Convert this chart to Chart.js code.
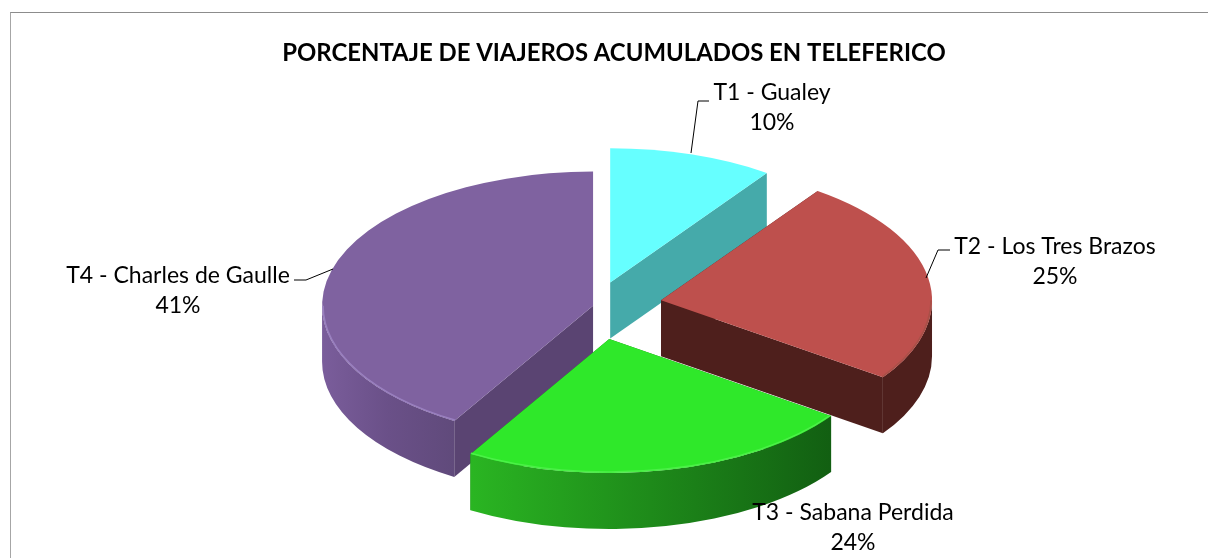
<!DOCTYPE html>
<html>
<head>
<meta charset="utf-8">
<title>Viajeros en teleferico</title>
<script src="https://cdn.jsdelivr.net/npm/chart.js@4"></script>
<style>
    html, body { margin: 0; padding: 0; background: #fff; overflow: hidden; }
    #wrap { position: relative; width: 1208px; height: 558px; }
    #myChart { position: absolute; left: 0; top: 0; }
    #frame { position: absolute; left: 10px; top: 12px; right: 0; bottom: 0; border-top: 1px solid #8c8c8c; border-left: 1px solid #a6a6a6; }
</style>
</head>
<body>
<div id="wrap">
    <canvas id="myChart" width="1208" height="558"></canvas>
    <div id="frame"></div>
</div>
<script>
const chartTitle = 'PORCENTAJE DE VIAJEROS ACUMULADOS EN TELEFERICO'
const categories = ['T1 - Gualey', 'T2 - Los Tres Brazos', 'T3 - Sabana Perdida', 'T4 - Charles de Gaulle']
const values = [9.8, 24.9, 23.8, 41.4]

// slice look, same order as categories
const topColors = ['#66FFFF', '#BE504D', '#2FE82A', '#7F62A0']
const faceColors = ['#45AAAA', '#4E1F1C', '#1A7A12', '#5A4472']
const rimColors = [
    ['#45AAAA', '#45AAAA'],
    ['#4E1F1C', '#4E1F1C'],
    ['#2AB522', '#1E8A1A', '#125F12'],
    ['#7A5D9B', '#6A5088', '#604A7B']
]
const bevelColors = ['#66FFFF', '#A85048', '#4CF048', '#9A80C0']
const explode = [50, 67, 68, 2]
const paintOrder = [0, 3, 1, 2]

// 3d pie geometry
const pieX = 595
const pieY = 306
const pieRadius = 271
const squash = 0.495
const depth = 56

// label anchors and leader lines
const labelSpots = [[772, 93], [1055, 247], [853, 513], [178, 276]]
const leaders = [
    [[709, 101], [698, 101], [691, 153]],
    [[950, 250], [938, 250], [926, 278]],
    null,
    [[294, 280], [306, 280], [333, 269]]
]
const labelFont = '23px Lato'
const lineGap = 30

const pie3d = {
    id: 'pie3d',
    beforeDatasetDraw(chart, args) {
        const ctx = chart.ctx
        const arcs = args.meta.data
        paintOrder.forEach(i => {
            const arc = arcs[i]
            const mid = (arc.startAngle + arc.endAngle) / 2
            const ax = pieX + Math.cos(mid) * explode[i]
            const ay = pieY + Math.sin(mid) * explode[i] * squash
            drawWalls(ctx, arc, i, ax, ay)
            ctx.save()
            ctx.translate(ax, ay)
            ctx.scale(1, squash)
            ctx.translate(-arc.x, -arc.y)
            arc.draw(ctx)
            ctx.restore()
            drawBevel(ctx, arc, i, ax, ay)
        })
        return false
    },
    afterDraw(chart) {
        const ctx = chart.ctx
        const total = values.reduce((a, b) => a + b, 0)
        ctx.save()
        ctx.strokeStyle = '#000'
        ctx.lineWidth = 1
        leaders.forEach(line => {
            if (!line) return
            ctx.beginPath()
            line.forEach((p, n) => n ? ctx.lineTo(p[0], p[1]) : ctx.moveTo(p[0], p[1]))
            ctx.stroke()
        })
        ctx.fillStyle = '#000'
        ctx.font = labelFont
        ctx.textAlign = 'center'
        ctx.textBaseline = 'middle'
        categories.forEach((name, i) => {
            const [x, y] = labelSpots[i]
            ctx.fillText(name, x, y)
            ctx.fillText(Math.round(values[i] / total * 100) + '%', x, y + lineGap)
        })
        ctx.restore()
    }
}

function rimRange(arc) {
    const from = Math.max(arc.startAngle, 0)
    const to = Math.min(arc.endAngle, Math.PI)
    return to > from ? [from, to] : null
}

function drawWalls(ctx, arc, i, ax, ay) {
    const ry = pieRadius * squash
    ctx.fillStyle = faceColors[i]
    ;[arc.startAngle, arc.endAngle].forEach(a => {
        const px = ax + Math.cos(a) * pieRadius
        const py = ay + Math.sin(a) * ry
        ctx.beginPath()
        ctx.moveTo(ax, ay)
        ctx.lineTo(px, py)
        ctx.lineTo(px, py + depth)
        ctx.lineTo(ax, ay + depth)
        ctx.closePath()
        ctx.fill()
    })
    const range = rimRange(arc)
    if (!range) return
    const x0 = ax + Math.cos(range[1]) * pieRadius
    const x1 = ax + Math.cos(range[0]) * pieRadius
    const grad = ctx.createLinearGradient(x0, 0, x1, 0)
    rimColors[i].forEach((c, n) => grad.addColorStop(n / (rimColors[i].length - 1), c))
    ctx.fillStyle = grad
    ctx.beginPath()
    ctx.ellipse(ax, ay, pieRadius, ry, 0, range[0], range[1])
    ctx.ellipse(ax, ay + depth, pieRadius, ry, 0, range[1], range[0], true)
    ctx.closePath()
    ctx.fill()
}

function drawBevel(ctx, arc, i, ax, ay) {
    const range = rimRange(arc)
    if (!range) return
    ctx.save()
    ctx.strokeStyle = bevelColors[i]
    ctx.lineWidth = 1.5
    ctx.beginPath()
    ctx.ellipse(ax, ay, pieRadius - 1, pieRadius * squash - 1, 0, range[0], range[1])
    ctx.stroke()
    ctx.restore()
}

new Chart(document.getElementById('myChart'), {
    type: 'pie',
    data: {
        labels: categories,
        datasets: [{
            data: values,
            backgroundColor: topColors,
            borderWidth: 0,
            radius: pieRadius
        }]
    },
    options: {
        responsive: false,
        animation: false,
        layout: { padding: { left: 20 } },
        plugins: {
            legend: { display: false },
            tooltip: { enabled: false },
            title: {
                display: true,
                text: chartTitle,
                color: '#000',
                font: { family: 'Lato', size: 23.9, weight: 'bold' },
                padding: { top: 39, bottom: 0 }
            }
        }
    },
    plugins: [pie3d]
})
</script>
</body>
</html>
